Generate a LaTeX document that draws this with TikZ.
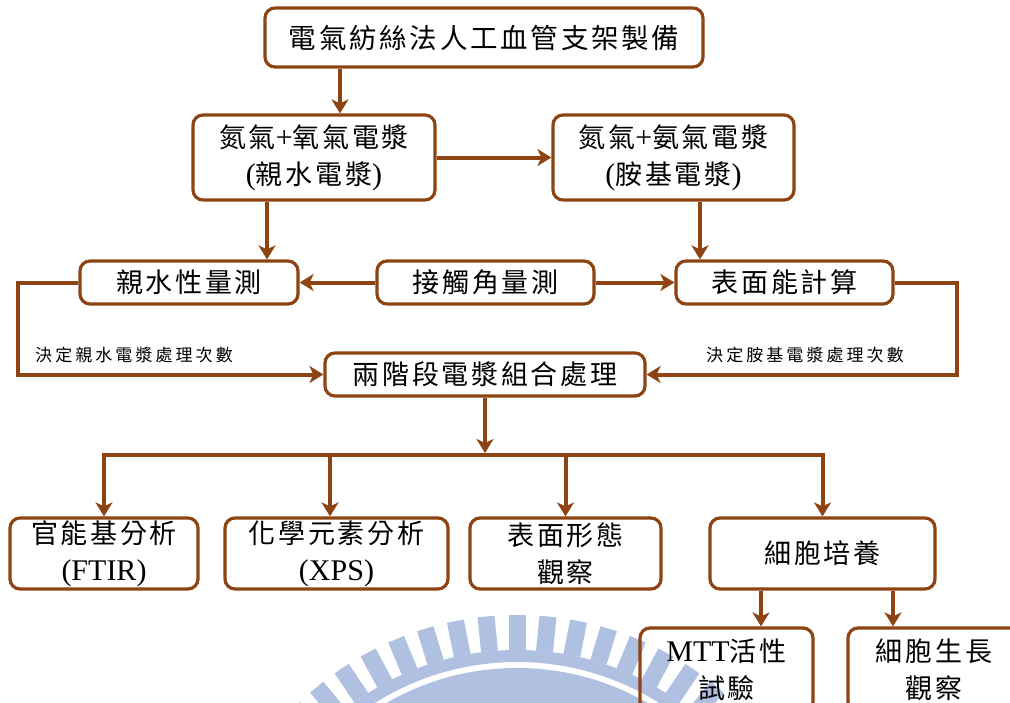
\documentclass[tikz,border=0pt]{standalone}
\usepackage{fontspec}
\setmainfont{Liberation Serif}
\newfontfamily\cjk[LetterSpace=10]{Noto Sans CJK TC}
\newfontfamily\cjksmall[LetterSpace=18]{Noto Sans CJK TC}
\newcommand\mylat[1]{{\rmfamily\fontsize{30}{37}\selectfont #1}}
\usetikzlibrary{arrows.meta,calc}
\definecolor{brn}{RGB}{142,68,18}
\definecolor{wm}{RGB}{176,192,224}
\tikzset{
  box/.style={draw=brn, line width=3.2pt, rounded corners=10pt, inner sep=0pt, align=center, font=\fontsize{27}{37}\selectfont\cjk},
  arr/.style={draw=brn, line width=4pt, -{Stealth[length=14pt,width=17pt,inset=4pt]}},
  ln/.style={draw=brn, line width=4pt, line cap=rect},
  lbl/.style={inner sep=0pt, font=\fontsize{17}{18}\selectfont\cjksmall},
}
\begin{document}
\begin{tikzpicture}[x=1pt,y=-1pt]
\useasboundingbox (0,0) rectangle (1010,702);
\clip (0,0) rectangle (1010,702);
\fill[white] (0,0) rectangle (1010,702);
% watermark
\coordinate (wc) at (517,929);
\fill[wm] (wc) circle[radius=261];
\draw[wm, line width=12pt] (wc) circle[radius=273];
\foreach \k in {-10,...,10} {
  \draw[wm, line width=17pt] ($(wc)+(270+5.66*\k:279)$) -- ($(wc)+(270+5.66*\k:314)$);
}
% nodes
\node[box, minimum width=438pt, minimum height=59pt] (t) at (484,37.5) {\fontsize{27.5}{37}\selectfont 電氣紡絲法人工血管支架製備};
\node[box, minimum width=242pt, minimum height=85pt] (b2) at (314,157.5) {氮氣\mylat{+}氧氣電漿\\\mylat{(}親水電漿\mylat{)}};
\node[box, minimum width=241pt, minimum height=85pt] (b3) at (673.5,157.5) {氮氣\mylat{+}氨氣電漿\\\mylat{(}胺基電漿\mylat{)}};
\node[box, minimum width=218pt, minimum height=43pt] (hy) at (189,282.5) {親水性量測};
\node[box, minimum width=217pt, minimum height=43pt] (ca) at (485.5,282.5) {接觸角量測};
\node[box, minimum width=217pt, minimum height=43pt] (se) at (784.5,282.5) {表面能計算};
\node[box, minimum width=320pt, minimum height=43pt] (tp) at (485,374.5) {兩階段電漿組合處理};
\node[lbl] (l1) at (134,355) {決定親水電漿處理次數};
\node[lbl] (l2) at (805,355) {決定胺基電漿處理次數};
\node[box, minimum width=188pt, minimum height=71pt] (A) at (104,553.5) {官能基分析\\\mylat{(FTIR)}};
\node[box, minimum width=223pt, minimum height=71pt] (B) at (336.5,553.5) {化學元素分析\\\mylat{(XPS)}};
\node[box, minimum width=191pt, minimum height=71pt] (C) at (565.5,553.5) {表面形態\\觀察};
\node[box, minimum width=225pt, minimum height=71pt] (D) at (822.5,553.5) {細胞培養};
\node[box, minimum width=173pt, minimum height=84pt] (M) at (726.5,670) {\mylat{MTT}活性\\試驗};
\node[box, minimum width=172pt, minimum height=84pt] (G) at (934,670) {細胞生長\\觀察};
% helper coordinates
\coordinate (x340) at (340,0);
\coordinate (x267) at (267,0);
\coordinate (x700) at (700,0);
\coordinate (x330) at (330,0);
\coordinate (x761) at (761,0);
\coordinate (x893) at (893,0);
\coordinate (bus) at (485,455);
% connectors
\draw[arr] (t.south -| x340) -- (b2.north -| x340);
\draw[arr] (b2.east) -- (b3.west);
\draw[arr] (b2.south -| x267) -- (hy.north -| x267);
\draw[arr] (b3.south -| x700) -- (se.north -| x700);
\draw[arr] (ca.west) -- (hy.east);
\draw[arr] (ca.east) -- (se.west);
\draw[arr] (hy.west) -- ++(-60,0) |- (tp.west);
\draw[arr] (se.east) -- ++(62,0) |- (tp.east);
\draw[arr] (tp.south) -- ([yshift=2pt]bus);
\draw[ln] (A.north |- bus) -- (D.north |- bus);
\draw[arr] (A.north |- bus) -- (A.north);
\draw[arr] (x330 |- bus) -- (x330 |- B.north);
\draw[arr] (C.north |- bus) -- (C.north);
\draw[arr] (D.north |- bus) -- (D.north);
\draw[arr] (D.south -| x761) -- (M.north -| x761);
\draw[arr] (D.south -| x893) -- (G.north -| x893);
\end{tikzpicture}
\end{document}
